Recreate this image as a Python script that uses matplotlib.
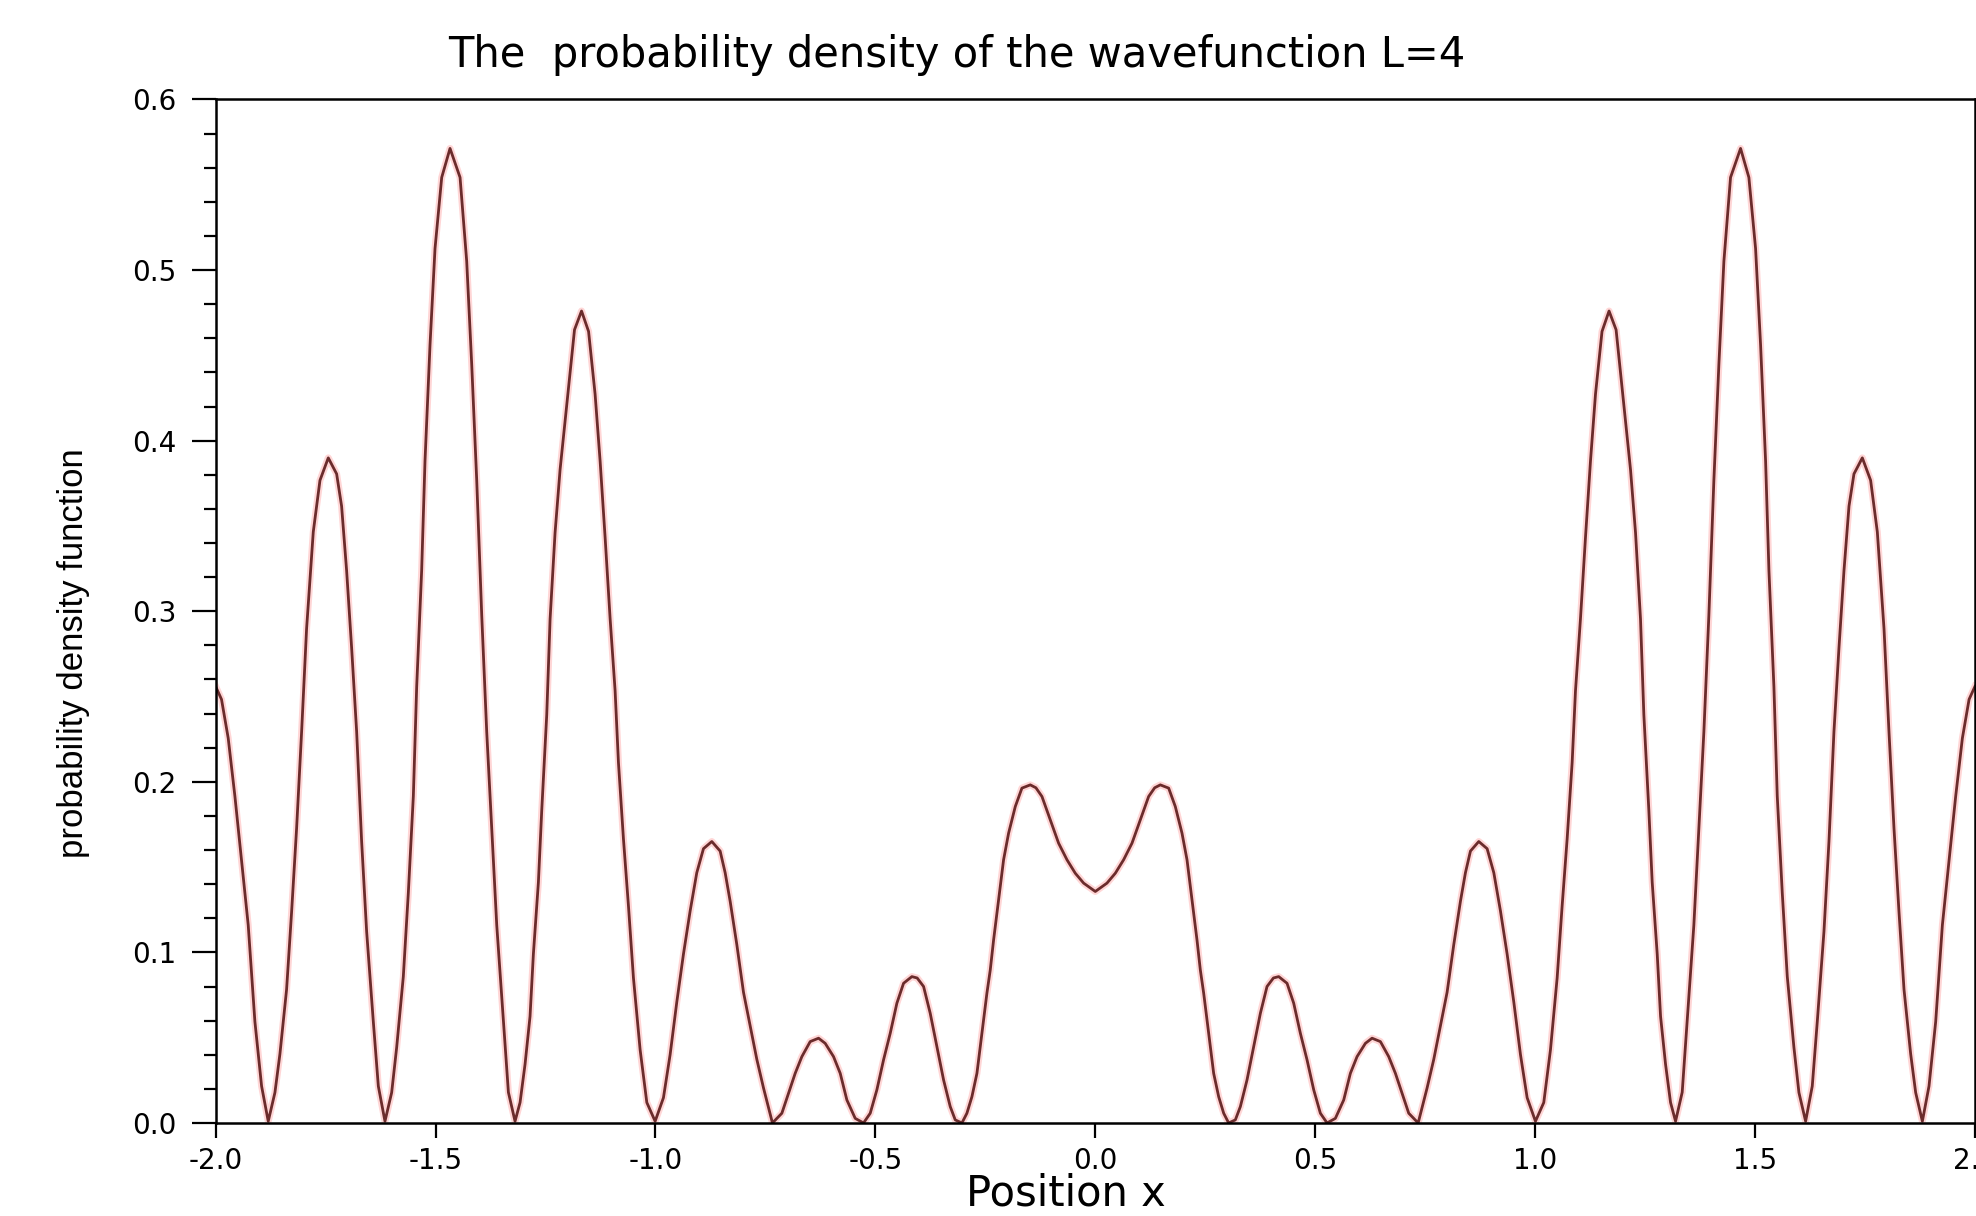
import numpy as np
import matplotlib
matplotlib.use("Agg")
import matplotlib.pyplot as plt
from matplotlib.ticker import MultipleLocator, FormatStrFormatter

plt.rcParams['axes.unicode_minus'] = False

# right half of the curve (x >= 0); the plot is symmetric
x_half = [0.000, 0.0265, 0.0455, 0.0644, 0.0834, 0.1023, 0.1213, 0.135, 0.1478,
          0.1668, 0.1819, 0.1971, 0.2085, 0.2161, 0.2236, 0.2312, 0.2388, 0.2464,
          0.2578, 0.2691, 0.2805, 0.2919, 0.3032, 0.3184, 0.3298, 0.3449, 0.3601,
          0.3753, 0.3904, 0.4050, 0.4170, 0.4359, 0.4511, 0.4662, 0.4814, 0.4966,
          0.5117, 0.5269, 0.5458, 0.5648, 0.5799, 0.5951, 0.6141, 0.6292, 0.6482,
          0.6671, 0.6823, 0.6974, 0.7126, 0.734, 0.7543, 0.7695, 0.7847, 0.7998,
          0.8150, 0.8301, 0.8415, 0.8529, 0.8718, 0.8908, 0.9060, 0.9211, 0.9363,
          0.9514, 0.9666, 0.9818, 1.0007, 1.0196, 1.0348, 1.0500, 1.0613, 1.0727,
          1.0841, 1.0917, 1.1030, 1.1144, 1.1258, 1.1372, 1.152, 1.168, 1.184,
          1.1978, 1.2168, 1.2282, 1.2395, 1.2471, 1.2585, 1.2661, 1.2775, 1.2851,
          1.2964, 1.3078, 1.3192, 1.3343, 1.3456, 1.3608, 1.3722, 1.3836, 1.3949,
          1.4063, 1.4177, 1.4291, 1.4442, 1.4670, 1.4859, 1.5011, 1.5125, 1.5239,
          1.5315, 1.5428, 1.5504, 1.5618, 1.5732, 1.5883, 1.5997, 1.6149, 1.6300,
          1.6414, 1.6566, 1.6680, 1.6793, 1.6907, 1.7021, 1.7135, 1.7248, 1.7438,
          1.7627, 1.7779, 1.7931, 1.8044, 1.8158, 1.8272, 1.8386, 1.8537, 1.8651,
          1.8803, 1.8954, 1.9106, 1.9258, 1.9410, 1.9561, 1.9713, 1.9865, 2.000]
y_half = [0.1357, 0.1406, 0.1464, 0.1543, 0.1640, 0.1777, 0.1914, 0.1965, 0.1982,
          0.1963, 0.1855, 0.1699, 0.1543, 0.1386, 0.1230, 0.1073, 0.0897, 0.0761,
          0.0526, 0.0291, 0.0154, 0.0057, 0.0000, 0.0018, 0.0096, 0.0252, 0.0448,
          0.0643, 0.0800, 0.0850, 0.0858, 0.0819, 0.0702, 0.0526, 0.0370, 0.0194,
          0.0057, 0.0000, 0.0027, 0.0135, 0.0291, 0.0389, 0.0467, 0.0497, 0.0477,
          0.0389, 0.0291, 0.0174, 0.0057, 0.0000, 0.0205, 0.0373, 0.0570, 0.0766,
          0.1046, 0.1299, 0.1467, 0.1594, 0.1650, 0.1608, 0.1467, 0.1243, 0.0990,
          0.0710, 0.0401, 0.0148, 0.0010, 0.0120, 0.0429, 0.0850, 0.1271, 0.1664,
          0.2113, 0.2534, 0.2955, 0.3432, 0.3881, 0.4273, 0.4640, 0.4760, 0.4650,
          0.4304, 0.3830, 0.3460, 0.2955, 0.2394, 0.1832, 0.1411, 0.0990, 0.0625,
          0.0345, 0.0120, 0.0010, 0.0180, 0.0594, 0.1160, 0.1727, 0.2294, 0.2974,
          0.3767, 0.4447, 0.5052, 0.5543, 0.5713, 0.5543, 0.5127, 0.4561, 0.3880,
          0.3238, 0.2558, 0.1916, 0.1349, 0.0858, 0.0443, 0.0178, 0.0010, 0.0216,
          0.0594, 0.1123, 0.1652, 0.2294, 0.2785, 0.3238, 0.3616, 0.3805, 0.3899,
          0.3767, 0.3465, 0.2898, 0.2294, 0.1727, 0.1236, 0.0782, 0.0405, 0.0178,
          0.0010, 0.0216, 0.0594, 0.1160, 0.1538, 0.1916, 0.2256, 0.2483, 0.2560]

x_ticks = [-2.0, -1.5, -1.0, -0.5, 0.0, 0.5, 1.0, 1.5, 2.0]
y_ticks = [0.0, 0.1, 0.2, 0.3, 0.4, 0.5, 0.6]

xr = np.array(x_half)
yr = np.array(y_half)
x = np.concatenate([-xr[::-1], xr[1:]])
y = np.concatenate([yr[::-1], yr[1:]])

fig = plt.figure(figsize=(19.76, 12.16), dpi=100)
ax = fig.add_axes([0.1091, 0.0765, 0.8904, 0.8417])

ax.plot(x, y, color='#ffd6d6', lw=5, solid_joinstyle='round', zorder=1)
ax.plot(x, y, color='#6b2c2c', lw=2, zorder=2)

ax.set_xlim(-2, 2)
ax.set_ylim(0, 0.6)
ax.set_xticks(x_ticks)
ax.set_yticks(y_ticks)
ax.xaxis.set_major_formatter(FormatStrFormatter('%.1f'))
ax.yaxis.set_major_formatter(FormatStrFormatter('%.1f'))
ax.yaxis.set_minor_locator(MultipleLocator(0.02))

for s in ax.spines.values():
    s.set_linewidth(1.8)
ax.tick_params(axis='y', which='major', direction='out', length=17, width=1.6,
               pad=11, labelsize=20)
ax.tick_params(axis='y', which='minor', direction='out', length=9, width=1.6)
ax.tick_params(axis='x', which='major', direction='out', length=11, width=1.6,
               pad=6, labelsize=20)
ax.tick_params(top=False, right=False)

fig.text(0.484, 0.945, "The  probability density of the wavefunction L=4",
         fontsize=30, ha='center', va='baseline', family='DejaVu Sans')
fig.text(0.5395, 0.009, "Position x", fontsize=30, ha='center', va='baseline',
         family='DejaVu Sans')
fig.text(0.037, 0.463, "probability density function", rotation=90,
         fontsize=25, ha='center', va='center', family='Liberation Sans')

fig.savefig("out.png", dpi=100)
